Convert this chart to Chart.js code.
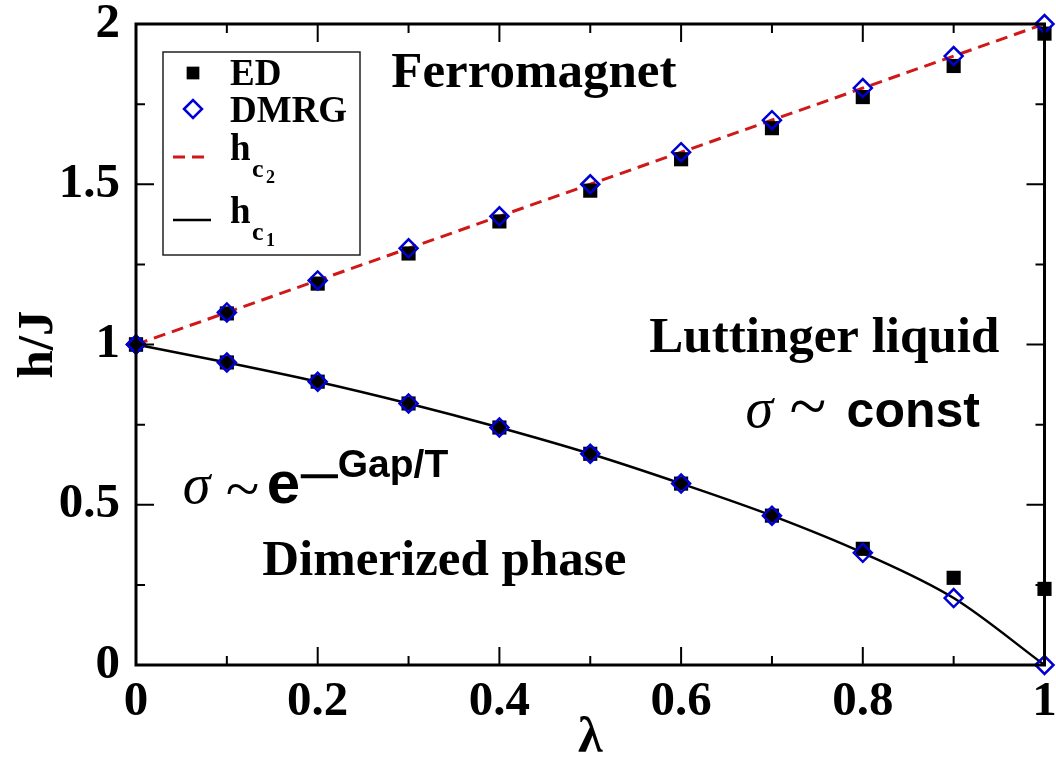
<!DOCTYPE html>
<html>
<head>
<meta charset="utf-8">
<script src="https://cdn.jsdelivr.net/npm/chart.js@4.4.1/dist/chart.umd.min.js"></script>
<style>
  html, body { margin: 0; padding: 0; background: #fff; }
</style>
</head>
<body>
<canvas id="phaseChart" width="1056" height="761"></canvas>
<script>
// coupling values along the x axis
const lambdas = [0, 0.1, 0.2, 0.3, 0.4, 0.5, 0.6, 0.7, 0.8, 0.9, 1];

// exact diagonalization, upper and lower critical fields
const edUpper = [1.0, 1.097, 1.19, 1.284, 1.384, 1.48, 1.578, 1.675, 1.772, 1.869, 1.97];
const edLower = [1.0, 0.944, 0.884, 0.816, 0.741, 0.659, 0.566, 0.466, 0.3625, 0.272, 0.2375];

// DMRG, upper and lower critical fields
const dmrgUpper = [1.0, 1.1, 1.2, 1.3, 1.4, 1.5, 1.6, 1.7, 1.8, 1.9, 2.0];
const dmrgLower = [1.0, 0.944, 0.884, 0.816, 0.741, 0.659, 0.566, 0.466, 0.35, 0.209, 0.0];

// h_c2 is a straight line, h_c1 follows the DMRG curve
const hc2X = [0, 1];
const hc2Y = [1, 2];
const hc1Y = dmrgLower;

const xTicks = [0, 0.2, 0.4, 0.6, 0.8, 1];
const xTickLabels = ['0', '0.2', '0.4', '0.6', '0.8', '1'];
const yTicks = [0, 0.5, 1, 1.5, 2];
const yTickLabels = ['0', '0.5', '1', '1.5', '2'];

const SERIF = '"Liberation Serif", "Times New Roman", serif';
const SANS = '"Liberation Sans", Arial, sans-serif';
const BLUE = '#0000d4';
const RED = '#d01818';

const pts = (xs, ys) => xs.map((x, i) => ({x: x, y: ys[i]}));

// frame and inward ticks on all four sides
const framePlugin = {
   id: 'frame',
   afterDatasetsDraw(chart) {
      const {ctx, chartArea: a, scales} = chart;
      const sx = scales.x, sy = scales.y;
      ctx.save();
      ctx.strokeStyle = '#000';
      ctx.lineWidth = 2;
      for (let i = 0; i <= 10; i++) {
         const px = sx.getPixelForValue(i / 10);
         const len = i % 2 === 0 ? 18 : 9;
         ctx.beginPath();
         ctx.moveTo(px, a.bottom); ctx.lineTo(px, a.bottom - len);
         ctx.moveTo(px, a.top); ctx.lineTo(px, a.top + len);
         ctx.stroke();
      }
      for (let i = 0; i <= 8; i++) {
         const py = sy.getPixelForValue(i * 0.25);
         const len = i % 2 === 0 ? 18 : 9;
         ctx.beginPath();
         ctx.moveTo(a.left, py); ctx.lineTo(a.left + len, py);
         ctx.moveTo(a.right, py); ctx.lineTo(a.right - len, py);
         ctx.stroke();
      }
      ctx.lineWidth = 3;
      ctx.strokeRect(a.left, a.top, a.right - a.left, a.bottom - a.top);
      ctx.restore();
   }
};

// text runs anchored at a data position
function drawRuns(chart, xv, yv, runs) {
   const ctx = chart.ctx;
   const x0 = chart.scales.x.getPixelForValue(xv);
   const y0 = chart.scales.y.getPixelForValue(yv);
   runs.forEach(r => {
      ctx.font = r.font;
      ctx.fillText(r.text, x0 + (r.dx || 0), y0 + (r.dy || 0));
   });
}

const labelsPlugin = {
   id: 'phaseLabels',
   afterDatasetsDraw(chart) {
      const ctx = chart.ctx;
      ctx.save();
      ctx.fillStyle = '#000';
      ctx.textAlign = 'left';
      ctx.textBaseline = 'alphabetic';
      const big = 'bold 51px ' + SERIF;
      drawRuns(chart, 0.281, 1.803, [{text: 'Ferromagnet', font: big}]);
      drawRuns(chart, 0.565, 0.977, [{text: 'Luttinger liquid', font: big}]);
      drawRuns(chart, 0.139, 0.281, [{text: 'Dimerized phase', font: big}]);
      drawRuns(chart, 0.671, 0.743, [
         {text: 'σ', font: 'italic 56px ' + SERIF},
         {text: '~', font: '68px ' + SERIF, dx: 44, dy: 2},
         {text: 'const', font: 'bold 50px ' + SANS, dx: 101}
      ]);
      drawRuns(chart, 0.0514, 0.505, [
         {text: 'σ', font: 'italic 56px ' + SERIF},
         {text: '~', font: '62px ' + SERIF, dx: 43, dy: 6},
         {text: 'e', font: 'bold 60px ' + SANS, dx: 84},
         {text: '−', font: '80px ' + SERIF, dx: 114, dy: 0},
         {text: 'Gap/T', font: 'bold 39px ' + SANS, dx: 155, dy: -26}
      ]);
      ctx.restore();
   }
};

// boxed legend in the upper left corner
const legendPlugin = {
   id: 'boxLegend',
   afterDraw(chart) {
      const {ctx, chartArea: a} = chart;
      const bx = a.left + 27, by = a.top + 28;
      const sym = bx + 30, txt = bx + 67;
      ctx.save();
      ctx.fillStyle = '#fff';
      ctx.fillRect(bx, by, 197, 203);
      ctx.strokeStyle = '#222';
      ctx.lineWidth = 1.5;
      ctx.strokeRect(bx, by, 197, 203);

      ctx.fillStyle = '#000';
      ctx.strokeStyle = '#000';
      Chart.helpers.drawPoint(ctx, {pointStyle: 'rect', radius: 9, rotation: 0, borderWidth: 0}, sym, by + 21);

      ctx.strokeStyle = BLUE;
      ctx.fillStyle = 'rgba(0,0,0,0)';
      ctx.lineWidth = 2.5;
      Chart.helpers.drawPoint(ctx, {pointStyle: 'rectRot', radius: 9, rotation: 0, borderWidth: 2.5}, sym, by + 57);

      ctx.lineWidth = 3;
      ctx.strokeStyle = RED;
      ctx.setLineDash([12, 7]);
      ctx.beginPath(); ctx.moveTo(sym - 20, by + 105); ctx.lineTo(sym + 18, by + 105); ctx.stroke();
      ctx.setLineDash([]);
      ctx.strokeStyle = '#000';
      ctx.lineWidth = 2.5;
      ctx.beginPath(); ctx.moveTo(sym - 20, by + 168); ctx.lineTo(sym + 18, by + 168); ctx.stroke();

      ctx.fillStyle = '#000';
      ctx.textAlign = 'left';
      ctx.textBaseline = 'alphabetic';
      const f = 'bold 37px ' + SERIF;
      const sub = 'bold 26px ' + SERIF;
      const sub2 = 'bold 18px ' + SERIF;
      ctx.font = f;
      ctx.fillText('ED', txt, by + 33);
      ctx.fillText('DMRG', txt, by + 70);
      ctx.fillText('h', txt, by + 108);
      ctx.fillText('h', txt, by + 171);
      ctx.font = sub;
      ctx.fillText('c', txt + 22, by + 125);
      ctx.fillText('c', txt + 22, by + 188);
      ctx.font = sub2;
      ctx.fillText('2', txt + 36, by + 131);
      ctx.fillText('1', txt + 36, by + 194);
      ctx.restore();
   }
};

const tickFont = {family: SERIF, size: 49, weight: 'bold'};

new Chart(document.getElementById('phaseChart'), {
   type: 'scatter',
   data: {
      datasets: [
         {
            label: 'DMRG',
            data: pts(lambdas, dmrgUpper).concat(pts(lambdas, dmrgLower)),
            showLine: false,
            pointStyle: 'rectRot',
            pointRadius: 9,
            pointBorderWidth: 2.5,
            pointBorderColor: BLUE,
            pointBackgroundColor: 'rgba(0,0,0,0)',
            clip: false
         },
         {
            label: 'ED',
            data: pts(lambdas, edUpper).concat(pts(lambdas, edLower)),
            showLine: false,
            pointStyle: 'rect',
            pointRadius: 10,
            pointBorderWidth: 0,
            pointBackgroundColor: '#000',
            clip: false
         },
         {
            label: 'hc2',
            data: pts(hc2X, hc2Y),
            showLine: true,
            borderColor: RED,
            borderWidth: 3,
            borderDash: [12, 7],
            pointRadius: 0,
            fill: false
         },
         {
            label: 'hc1',
            data: pts(lambdas, hc1Y),
            showLine: true,
            borderColor: '#000',
            borderWidth: 2.5,
            cubicInterpolationMode: 'monotone',
            pointRadius: 0,
            fill: false,
            clip: false
         }
      ]
   },
   options: {
      responsive: false,
      animation: false,
      devicePixelRatio: 1,
      layout: {padding: {top: 24, right: 5, bottom: 0, left: 0}},
      plugins: {
         legend: {display: false},
         tooltip: {enabled: false}
      },
      scales: {
         x: {
            type: 'linear',
            min: 0,
            max: 1,
            afterBuildTicks: s => { s.ticks = xTicks.map(v => ({value: v})); },
            ticks: {
               font: tickFont, color: '#000', padding: 0, maxRotation: 0, autoSkip: false,
               callback: (v, i) => xTickLabels[i]
            },
            grid: {display: false},
            border: {display: false},
            title: {
               display: true,
               text: 'λ',
               color: '#000',
               font: {family: SERIF, size: 50, weight: 'bold', lineHeight: 0.88},
               padding: 0
            },
            afterFit: s => { s.height = 96; s.paddingLeft = 0; s.paddingRight = 0; }
         },
         y: {
            type: 'linear',
            min: 0,
            max: 2,
            afterBuildTicks: s => { s.ticks = yTicks.map(v => ({value: v})); },
            ticks: {
               font: tickFont, color: '#000', padding: 8, autoSkip: false,
               callback: (v, i) => yTickLabels[i]
            },
            grid: {display: false},
            border: {display: false},
            title: {
               display: true,
               text: 'h/J',
               color: '#000',
               font: {family: SERIF, size: 51, weight: 'bold', lineHeight: 0.88},
               padding: {top: 16, bottom: 0}
            },
            afterFit: s => { s.width = 136; s.paddingTop = 0; s.paddingBottom = 0; }
         }
      }
   },
   plugins: [framePlugin, labelsPlugin, legendPlugin]
});
</script>
</body>
</html>
